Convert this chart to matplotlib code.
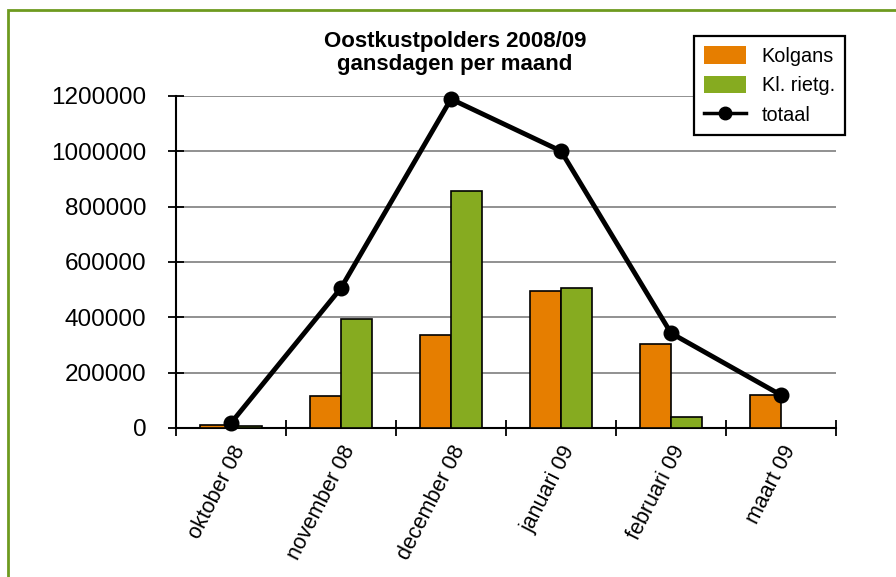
import numpy as np
import matplotlib.pyplot as plt
from matplotlib.patches import Rectangle
from matplotlib.lines import Line2D

plt.rcParams['font.family'] = ['Liberation Sans', 'DejaVu Sans']

maanden = ['oktober 08', 'november 08', 'december 08', 'januari 09', 'februari 09', 'maart 09']
kolgans = [10000, 115000, 336000, 495000, 304000, 119000]
rietgans = [8000, 394000, 856000, 506000, 40000, 0]
totaal = [18000, 506000, 1189000, 1001000, 343000, 119000]

W, H = 896, 577
fig = plt.figure(figsize=(W / 100, H / 100), dpi=100)
ax = fig.add_axes([176 / W, 1 - 428 / H, 660 / W, 332 / H])

x = np.arange(len(maanden))
bw = 0.28
ax.bar(x - bw / 2, kolgans, bw, color='#e67e00', edgecolor='black', linewidth=1.2, zorder=3)
ax.bar(x + bw / 2, rietgans, bw, color='#86ab20', edgecolor='black', linewidth=1.2, zorder=3)
ax.plot(x, totaal, color='black', linewidth=3.5, marker='o', markersize=10.5, zorder=4, clip_on=False)

ax.set_xlim(-0.5, len(maanden) - 0.5)
ax.set_ylim(0, 1200000)
ax.set_yticks(np.arange(0, 1200001, 200000))
ax.set_yticklabels([str(v) for v in range(0, 1200001, 200000)], fontsize=17.5)
ax.set_xticks(np.arange(-0.5, len(maanden)), minor=False)
ax.set_xticklabels([])
ax.set_xticks(x, minor=True)
ax.set_xticklabels(maanden, minor=True, rotation=63, ha='right', va='top',
                   rotation_mode='anchor', fontsize=15.5)
ax.tick_params(axis='x', which='minor', length=0, pad=10)
ax.tick_params(axis='both', which='major', direction='inout', length=11, width=1.3)
ax.tick_params(axis='y', pad=16)

ax.grid(axis='y', color='#888888', linewidth=1.3, zorder=0)
for s in ['top', 'right']:
    ax.spines[s].set_visible(False)
for s in ['left', 'bottom']:
    ax.spines[s].set_linewidth(1.5)

fig.text(455 / W, 1 - 53 / H, 'Oostkustpolders 2008/09\ngansdagen per maand',
         ha='center', va='center', fontsize=16, fontweight='bold', linespacing=1.1)

handles = [
    Rectangle((0, 0), 1, 1, facecolor='#e67e00', edgecolor='none'),
    Rectangle((0, 0), 1, 1, facecolor='#86ab20', edgecolor='none'),
    Line2D([], [], color='black', linewidth=2.5, marker='o', markersize=9),
]
leg = fig.legend(handles, ['Kolgans', 'Kl. rietg.', 'totaal'], loc='upper left',
                 bbox_to_anchor=(694 / W, 1 - 36 / H), fontsize=14.3, frameon=True,
                 fancybox=False, edgecolor='black', framealpha=1,
                 handlelength=2.1, handleheight=1.0, handletextpad=0.8,
                 borderpad=0.5, labelspacing=0.5, borderaxespad=0)
leg.get_frame().set_linewidth(1.6)

# outer frame of the chart area
fig.patches.append(Rectangle((8 / W, -0.1), 1.2, 1.1 - 10 / H, transform=fig.transFigure,
                             fill=False, edgecolor='#6e9a1f', linewidth=2))

fig.savefig('out.png', dpi=100)
